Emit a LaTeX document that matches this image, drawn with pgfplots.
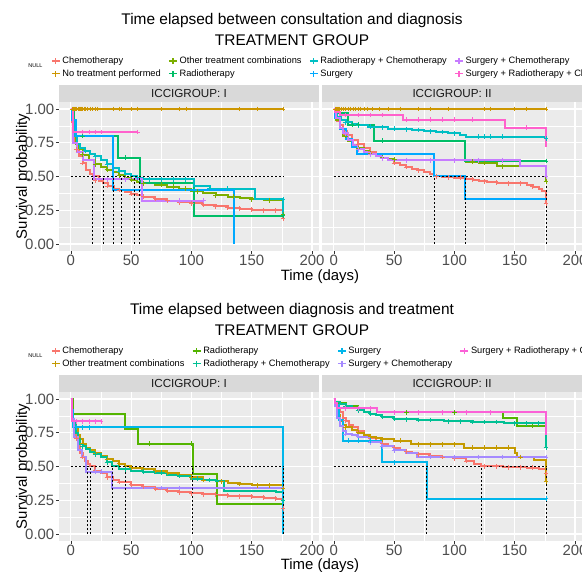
\documentclass[border=0pt]{standalone}
\usepackage{fontspec}
\setmainfont{Liberation Sans}
\usepackage{pgfplots}
\pgfplotsset{compat=1.18}

% ggplot hue palettes
\definecolor{kmA}{HTML}{F8766D}\definecolor{kmB}{HTML}{CD9600}
\definecolor{kmC}{HTML}{7CAE00}\definecolor{kmD}{HTML}{00BE67}
\definecolor{kmE}{HTML}{00BFC4}\definecolor{kmF}{HTML}{00A9FF}
\definecolor{kmG}{HTML}{C77CFF}\definecolor{kmH}{HTML}{FF61CC}
\definecolor{lA}{HTML}{F8766D}\definecolor{lB}{HTML}{C49A00}
\definecolor{lC}{HTML}{53B400}\definecolor{lD}{HTML}{00C094}
\definecolor{lE}{HTML}{00B6EB}\definecolor{lF}{HTML}{A58AFF}
\definecolor{lG}{HTML}{FB61D7}
\definecolor{panelbg}{HTML}{EBEBEB}
\definecolor{stripbg}{HTML}{D9D9D9}
\definecolor{labcol}{HTML}{4D4D4D}
\definecolor{tickcol}{HTML}{333333}

\pgfplotsset{
  every axis title shift=0pt,
  panel/.style={
    scale only axis, width=260bp, height=148.5bp,
    xmin=-9.8, xmax=205.8, ymin=-0.05, ymax=1.05,
    xtick={0,50,100,150,200}, xticklabels={0,50,100,150,200},
    ytick={0,0.25,0.5,0.75,1}, yticklabels={0.00,0.25,0.50,0.75,1.00},
    minor tick num=1, grid=both,
    major grid style={white, line width=1.1bp},
    minor grid style={white, line width=0.55bp},
    axis background/.style={fill=panelbg},
    axis line style={draw=none},
    tick align=outside, tick pos=left,
    major tick length=3bp, minor tick length=0pt,
    tick style={color=tickcol, line width=0.6bp},
    ticklabel style={font=\fontsize{15}{15}\selectfont, text=labcol},
    xticklabel style={inner sep=1.5bp},
    yticklabel style={inner sep=1.5bp},
    title style={at={(0.5,1)}, anchor=south, fill=stripbg,
      minimum width=260bp, minimum height=17bp, inner sep=0pt,
      font=\fontsize{11.7}{12}\selectfont, text=black!90},
  },
  km/.style={const plot, line width=2bp, color=#1, mark=none},
  cens/.style={only marks, mark=+, mark size=2.4bp, color=#1,
    mark options={line width=0.8bp}, forget plot},
  med/.style={black, line width=0.5bp, dash pattern=on 2bp off 2bp, forget plot},
  kmleg/.style={
    legend image code/.code={
      \draw[##1, line width=1.3bp] (0bp,0bp) -- (8bp,0bp);
      \draw[##1, line width=1.3bp] (4bp,-3bp) -- (4bp,3bp);},
    legend columns=2, transpose legend, legend cell align=left,
    legend style={draw=none, fill=none, inner sep=0pt, anchor=north west,
      font=\fontsize{9.3}{10}\selectfont, row sep=0.5bp,
      /tikz/every even column/.append style={column sep=5.5bp}},
  },
}

\begin{document}
\begin{tikzpicture}
\path[use as bounding box] (0,0) rectangle (582bp,572bp);

% ---------- titles and labels ----------
\node[font=\fontsize{15.5}{16}\selectfont] at (292bp,551bp) {Time elapsed between consultation and diagnosis};
\node[font=\fontsize{15.5}{16}\selectfont] at (292bp,532bp) {TREATMENT GROUP};
\node[font=\fontsize{15.5}{16}\selectfont] at (292bp,261bp) {Time elapsed between diagnosis and treatment};
\node[font=\fontsize{15.5}{16}\selectfont] at (292bp,242bp) {TREATMENT GROUP};
\node[font=\fontsize{5.5}{6}\selectfont] at (35.5bp,506bp) {NULL};
\node[font=\fontsize{5.5}{6}\selectfont] at (35.5bp,216bp) {NULL};
\node[font=\fontsize{15}{15}\selectfont, rotate=90] at (23bp,395.5bp) {Survival probability};
\node[font=\fontsize{15}{15}\selectfont, rotate=90] at (23bp,105.5bp) {Survival probability};
\node[font=\fontsize{15}{15}\selectfont] at (320bp,295bp) {Time (days)};
\node[font=\fontsize{15}{15}\selectfont] at (320bp,6bp) {Time (days)};

% ---------- top left ----------
\begin{axis}[panel, kmleg, at={(59bp,321.25bp)}, anchor=south west,
  title={ICCIGROUP: I}, legend style={at={(-0.031,1.32)}}]
\addplot[km=kmA] coordinates {(0,1) (1,0.9) (2,0.80) (3,0.76) (5,0.70) (7,0.65) (10,0.60) (13,0.55) (16,0.52) (18,0.50) (23,0.47) (27,0.45) (31,0.43) (36,0.41) (40,0.40) (45,0.385) (50,0.37) (55,0.36) (60,0.35) (70,0.335) (80,0.32) (90,0.31) (100,0.30) (110,0.29) (120,0.28) (130,0.27) (140,0.26) (150,0.255) (160,0.25) (176,0.25) (176,0.19)};
\addlegendentry{Chemotherapy}
\addplot[km=kmB] coordinates {(0,1) (176,1)};
\addlegendentry{No treatment performed}
\addplot[km=kmC] coordinates {(0,1) (2,0.80) (4,0.74) (6,0.70) (10,0.66) (15,0.62) (20,0.59) (25,0.57) (30,0.55) (35,0.53) (40,0.51) (45,0.49) (50,0.475) (55,0.46) (60,0.45) (70,0.44) (80,0.425) (90,0.41) (100,0.39) (110,0.38) (120,0.36) (130,0.35) (140,0.34) (150,0.33) (160,0.325) (176,0.31) (176,0.22)};
\addlegendentry{Other treatment combinations}
\addplot[km=kmD] coordinates {(0,1) (3,0.80) (39,0.64) (57,0.45) (102,0.21) (176,0.21)};
\addlegendentry{Radiotherapy}
\addplot[km=kmE] coordinates {(0,1) (1,0.92) (3,0.80) (5,0.74) (8,0.71) (12,0.69) (16,0.67) (20,0.65) (25,0.62) (30,0.59) (35,0.56) (40,0.54) (45,0.52) (50,0.50) (55,0.49) (60,0.48) (102,0.43) (115,0.41) (153,0.33) (176,0.33) (176,0.22)};
\addlegendentry{Radiotherapy + Chemotherapy}
\addplot[km=kmF] coordinates {(0,1) (1,0.92) (4,0.80) (35,0.40) (135,0)};
\addlegendentry{Surgery}
\addplot[km=kmG] coordinates {(0,1) (2,0.75) (5,0.68) (10,0.62) (19,0.48) (59,0.32) (110,0.32)};
\addlegendentry{Surgery + Chemotherapy}
\addplot[km=kmH] coordinates {(0,1) (2,0.83) (55,0.83)};
\addlegendentry{Surgery + Radiotherapy + Chemotherapy}
% censoring marks
\addplot[cens=kmA] coordinates {(5,0.70) (10,0.60) (20,0.47) (30,0.43) (40,0.40) (50,0.37) (60,0.35) (70,0.335) (80,0.32) (90,0.31) (100,0.30) (110,0.29) (120,0.28) (130,0.27) (140,0.26) (150,0.255) (160,0.25) (170,0.25) (176,0.19)};
\addplot[cens=kmB] coordinates {(1,1) (2,1) (3,1) (4,1) (5,1) (6,1) (7,1) (8,1) (9,1) (10,1) (11,1) (12,1) (14,1) (16,1) (18,1) (20,1) (22,1) (35,1) (40,1) (42,1) (50,1) (55,1) (75,1) (90,1) (96,1) (140,1) (155,1) (176,1)};
\addplot[cens=kmC] coordinates {(10,0.66) (20,0.59) (30,0.55) (40,0.51) (50,0.475) (60,0.45) (75,0.44) (85,0.425) (95,0.41) (105,0.39) (120,0.36) (135,0.35) (150,0.33) (165,0.325) (176,0.22)};
\addplot[cens=kmE] coordinates {(12,0.69) (20,0.65) (30,0.59) (40,0.54) (55,0.49) (65,0.48) (75,0.48) (85,0.48) (95,0.48) (115,0.41) (130,0.41) (176,0.33)};
\addplot[cens=kmD] coordinates {(10,0.80) (45,0.64) (176,0.21)};
\addplot[cens=kmH] coordinates {(10,0.83) (15,0.83) (20,0.83) (25,0.83) (55,0.83)};
\addplot[cens=kmG] coordinates {(30,0.48) (45,0.48) (90,0.32) (110,0.32)};
\addplot[med] coordinates {(0,0.5) (176,0.5)};
\addplot[med] coordinates {(18,0) (18,0.5)};
\addplot[med] coordinates {(27,0) (27,0.5)};
\addplot[med] coordinates {(35,0) (35,0.5)};
\addplot[med] coordinates {(42,0) (42,0.5)};
\addplot[med] coordinates {(53,0) (53,0.5)};
\addplot[med] coordinates {(57,0) (57,0.5)};
\end{axis}

% ---------- top right ----------
\begin{axis}[panel, at={(322bp,321.25bp)}, anchor=south west,
  title={ICCIGROUP: II}, yticklabels={}, ytick style={draw=none}]
\addplot[km=kmA] coordinates {(0,1) (1,0.96) (3,0.91) (5,0.88) (8,0.84) (11,0.81) (15,0.77) (20,0.74) (25,0.71) (30,0.685) (35,0.66) (40,0.64) (45,0.62) (50,0.60) (55,0.585) (60,0.57) (65,0.555) (70,0.545) (75,0.53) (80,0.515) (83,0.50) (90,0.495) (100,0.49) (110,0.485) (115,0.475) (120,0.465) (127,0.46) (135,0.455) (150,0.45) (160,0.44) (165,0.425) (170,0.41) (173,0.395) (176,0.38) (176,0.30)};
\addplot[km=kmB] coordinates {(0,1) (176,1)};
\addplot[km=kmC] coordinates {(0,1) (2,0.92) (5,0.85) (8,0.80) (12,0.76) (16,0.73) (20,0.71) (25,0.69) (30,0.67) (35,0.655) (40,0.64) (45,0.63) (50,0.625) (60,0.62) (110,0.61) (120,0.60) (135,0.575) (176,0.575) (176,0.46)};
\addplot[km=kmD] coordinates {(0,1) (2,0.97) (12,0.885) (33,0.765) (109,0.615) (176,0.615)};
\addplot[km=kmE] coordinates {(0,1) (1,0.96) (3,0.94) (6,0.92) (10,0.90) (15,0.89) (20,0.88) (28,0.87) (35,0.865) (45,0.855) (55,0.85) (65,0.845) (75,0.835) (85,0.83) (95,0.82) (105,0.81) (110,0.795) (176,0.795) (176,0.78)};
\addplot[km=kmF] coordinates {(0,1) (1,0.93) (5,0.85) (10,0.78) (15,0.72) (19,0.67) (83,0.50) (109,0.335) (176,0.335)};
\addplot[km=kmG] coordinates {(0,1) (2,0.93) (5,0.86) (8,0.82) (12,0.77) (16,0.73) (20,0.70) (25,0.68) (30,0.665) (35,0.65) (40,0.635) (45,0.625) (50,0.62) (154,0.575) (176,0.575) (176,0.50)};
\addplot[km=kmH] coordinates {(0,1) (1,0.975) (5,0.955) (57,0.92) (142,0.86) (176,0.86) (176,0.72)};
\addplot[cens=kmA] coordinates {(10,0.81) (20,0.74) (30,0.685) (40,0.64) (50,0.60) (60,0.57) (70,0.545) (85,0.50) (95,0.495) (105,0.49) (115,0.475) (125,0.465) (135,0.455) (145,0.45) (155,0.45) (165,0.425) (176,0.30)};
\addplot[cens=kmB] coordinates {(1,1) (2,1) (3,1) (4,1) (5,1) (6,1) (8,1) (10,1) (12,1) (14,1) (16,1) (18,1) (20,1) (22,1) (25,1) (28,1) (32,1) (38,1) (45,1) (55,1) (70,1) (80,1) (95,1) (125,1) (130,1) (150,1) (160,1) (176,1)};
\addplot[cens=kmC] coordinates {(10,0.80) (20,0.71) (30,0.67) (40,0.64) (50,0.625) (60,0.62) (115,0.61) (125,0.60) (140,0.575) (176,0.46)};
\addplot[cens=kmE] coordinates {(10,0.90) (20,0.88) (30,0.87) (40,0.865) (50,0.855) (60,0.85) (70,0.845) (80,0.835) (90,0.83) (100,0.82) (120,0.795) (125,0.795) (130,0.795) (140,0.795) (176,0.78)};
\addplot[cens=kmG] coordinates {(10,0.82) (20,0.70) (30,0.665) (40,0.635) (60,0.62) (80,0.62) (100,0.62) (120,0.62) (140,0.62) (176,0.50)};
\addplot[cens=kmH] coordinates {(10,0.955) (20,0.955) (30,0.955) (40,0.955) (60,0.92) (70,0.92) (80,0.92) (90,0.92) (100,0.92) (115,0.92) (160,0.86)};
\addplot[cens=kmD] coordinates {(15,0.885) (20,0.885) (40,0.765) (176,0.615)};
\addplot[med] coordinates {(0,0.5) (176,0.5)};
\addplot[med] coordinates {(83,0) (83,0.5)};
\addplot[med] coordinates {(109,0) (109,0.5)};
\addplot[med] coordinates {(176,0) (176,0.5)};
\end{axis}

% ---------- bottom left ----------
\begin{axis}[panel, kmleg, at={(59bp,31.25bp)}, anchor=south west,
  title={ICCIGROUP: I}, legend style={at={(-0.031,1.32)}}]
\addplot[km=lA] coordinates {(0,1) (1,0.90) (2,0.80) (4,0.71) (6,0.65) (8,0.60) (10,0.57) (12,0.54) (14,0.52) (16,0.50) (20,0.47) (25,0.45) (30,0.42) (35,0.40) (40,0.385) (50,0.365) (60,0.35) (70,0.335) (80,0.32) (90,0.31) (100,0.30) (110,0.295) (120,0.29) (130,0.285) (140,0.28) (150,0.275) (160,0.27) (170,0.26) (176,0.25) (176,0.19)};
\addlegendentry{Chemotherapy}
\addplot[km=lB] coordinates {(0,1) (1,0.90) (2,0.84) (4,0.78) (6,0.73) (8,0.70) (10,0.67) (13,0.64) (16,0.62) (20,0.60) (25,0.575) (30,0.555) (35,0.54) (40,0.52) (45,0.50) (50,0.49) (60,0.48) (70,0.47) (80,0.455) (90,0.44) (100,0.42) (110,0.40) (120,0.39) (130,0.38) (140,0.37) (150,0.36) (176,0.355) (176,0.34)};
\addlegendentry{Other treatment combinations}
\addplot[km=lC] coordinates {(0,1) (2,0.89) (45,0.78) (56,0.67) (101,0.445) (121,0.22) (176,0.22)};
\addlegendentry{Radiotherapy}
\addplot[km=lD] coordinates {(0,1) (1,0.90) (2,0.82) (4,0.75) (6,0.70) (8,0.67) (10,0.65) (13,0.63) (16,0.61) (20,0.59) (25,0.57) (30,0.53) (34,0.50) (40,0.48) (50,0.47) (60,0.46) (70,0.455) (80,0.44) (90,0.43) (100,0.41) (110,0.40) (120,0.39) (127,0.32) (170,0.31) (176,0.28) (176,0.25)};
\addlegendentry{Radiotherapy + Chemotherapy}
\addplot[km=lE] coordinates {(0,1) (1,0.92) (2,0.79) (176,0.79) (176,0)};
\addlegendentry{Surgery}
\addplot[km=lF] coordinates {(0,1) (1,0.85) (3,0.72) (6,0.62) (9,0.57) (13,0.46) (34,0.34) (176,0.34)};
\addlegendentry{Surgery + Chemotherapy}
\addplot[km=lG] coordinates {(0,1) (1,0.835) (25,0.835)};
\addlegendentry{Surgery + Radiotherapy + Chemotherapy}
\addplot[cens=lA] coordinates {(5,0.71) (10,0.57) (20,0.47) (30,0.42) (40,0.385) (50,0.365) (60,0.35) (70,0.335) (80,0.32) (90,0.31) (100,0.30) (110,0.295) (120,0.29) (130,0.285) (140,0.28) (150,0.275) (160,0.27) (170,0.26) (176,0.19)};
\addplot[cens=lB] coordinates {(10,0.67) (20,0.60) (30,0.555) (40,0.52) (50,0.49) (60,0.48) (70,0.47) (80,0.455) (90,0.44) (100,0.42) (110,0.40) (125,0.39) (140,0.37) (155,0.36) (165,0.36) (176,0.34)};
\addplot[cens=lD] coordinates {(10,0.65) (20,0.59) (30,0.53) (45,0.48) (60,0.46) (75,0.455) (90,0.43) (105,0.41) (115,0.40) (176,0.25)};
\addplot[cens=lG] coordinates {(5,0.835) (10,0.835) (15,0.835) (20,0.835) (25,0.835)};
\addplot[cens=lE] coordinates {(5,0.79) (10,0.79) (15,0.79)};
\addplot[cens=lF] coordinates {(20,0.46) (25,0.46) (75,0.34) (90,0.34)};
\addplot[cens=lC] coordinates {(65,0.67) (100,0.67)};
\addplot[med] coordinates {(0,0.5) (176,0.5)};
\addplot[med] coordinates {(14,0) (14,0.5)};
\addplot[med] coordinates {(16,0) (16,0.5)};
\addplot[med] coordinates {(34,0) (34,0.5)};
\addplot[med] coordinates {(45,0) (45,0.5)};
\addplot[med] coordinates {(101,0) (101,0.5)};
\addplot[med] coordinates {(176,0) (176,0.5)};
\end{axis}

% ---------- bottom right ----------
\begin{axis}[panel, at={(322bp,31.25bp)}, anchor=south west,
  title={ICCIGROUP: II}, yticklabels={}, ytick style={draw=none}]
\addplot[km=lA] coordinates {(0,1) (1,0.97) (3,0.93) (5,0.90) (8,0.86) (10,0.84) (13,0.81) (16,0.79) (20,0.76) (25,0.73) (30,0.71) (35,0.69) (40,0.67) (45,0.655) (50,0.64) (55,0.625) (60,0.61) (65,0.60) (70,0.59) (80,0.58) (90,0.57) (100,0.56) (110,0.54) (116,0.52) (122,0.50) (140,0.495) (160,0.49) (170,0.48) (176,0.47) (176,0.45)};
\addplot[km=lB] coordinates {(0,1) (1,0.95) (3,0.88) (5,0.84) (8,0.81) (10,0.79) (15,0.77) (20,0.75) (25,0.735) (30,0.72) (35,0.71) (40,0.70) (50,0.69) (64,0.665) (108,0.64) (150,0.60) (152,0.57) (166,0.55) (176,0.52) (176,0.39)};
\addplot[km=lC] coordinates {(0,1) (1,0.97) (10,0.95) (20,0.93) (36,0.90) (140,0.86) (152,0.80) (176,0.80) (176,0.73)};
\addplot[km=lD] coordinates {(0,1) (1,0.98) (5,0.96) (10,0.945) (15,0.93) (20,0.915) (25,0.905) (30,0.89) (35,0.88) (40,0.87) (45,0.865) (50,0.855) (60,0.85) (70,0.845) (91,0.835) (115,0.83) (141,0.82) (176,0.82) (176,0.64)};
\addplot[km=lE] coordinates {(0,1) (1,0.955) (4,0.845) (8,0.69) (40,0.53) (77,0.26) (176,0.26)};
\addplot[km=lF] coordinates {(0,1) (1,0.95) (3,0.86) (5,0.80) (8,0.76) (10,0.74) (15,0.73) (20,0.72) (30,0.68) (40,0.65) (50,0.62) (60,0.60) (69,0.57) (176,0.57)};
\addplot[km=lG] coordinates {(0,1) (1,0.97) (3,0.93) (36,0.90) (176,0.90) (176,0.73)};
\addplot[cens=lA] coordinates {(10,0.84) (20,0.76) (30,0.71) (40,0.67) (50,0.64) (60,0.61) (70,0.59) (80,0.58) (90,0.57) (100,0.56) (110,0.54) (125,0.50) (135,0.50) (145,0.495) (155,0.495) (165,0.49) (176,0.45)};
\addplot[cens=lB] coordinates {(10,0.79) (20,0.75) (30,0.72) (40,0.70) (55,0.69) (70,0.665) (80,0.665) (90,0.665) (100,0.665) (115,0.64) (125,0.64) (135,0.64) (145,0.64) (155,0.57) (176,0.39)};
\addplot[cens=lD] coordinates {(10,0.945) (20,0.915) (30,0.89) (40,0.87) (50,0.855) (60,0.85) (70,0.845) (80,0.845) (95,0.835) (105,0.835) (115,0.83) (125,0.83) (135,0.83) (150,0.82) (160,0.82) (170,0.82) (176,0.64)};
\addplot[cens=lF] coordinates {(10,0.74) (20,0.72) (30,0.68) (40,0.65) (50,0.62) (80,0.57) (100,0.57) (120,0.57) (140,0.57) (176,0.57)};
\addplot[cens=lG] coordinates {(10,0.93) (20,0.93) (30,0.93) (50,0.90) (70,0.90) (90,0.90) (110,0.90) (130,0.90)};
\addplot[cens=lE] coordinates {(12,0.69) (20,0.69) (30,0.69) (50,0.53) (176,0.26)};
\addplot[cens=lC] coordinates {(60,0.90) (100,0.90) (165,0.80)};
\addplot[med] coordinates {(0,0.5) (176,0.5)};
\addplot[med] coordinates {(77,0) (77,0.5)};
\addplot[med] coordinates {(122,0) (122,0.5)};
\addplot[med] coordinates {(176,0) (176,0.5)};
\end{axis}
\end{tikzpicture}
\end{document}
